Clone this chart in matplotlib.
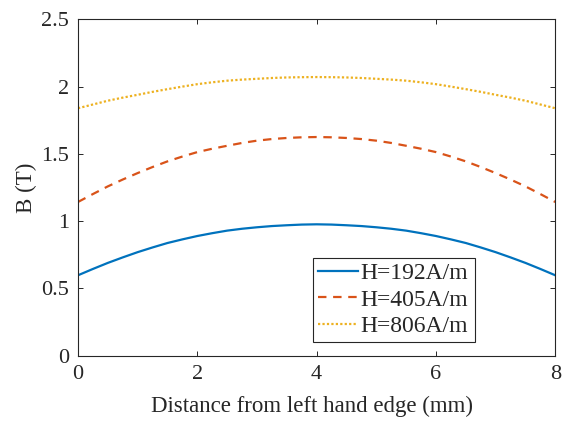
import matplotlib
matplotlib.use("Agg")
import matplotlib.pyplot as plt

plt.rcParams["font.family"] = ["Liberation Serif", "DejaVu Serif"]

# Distance from the left hand edge (mm)
distance = [0, 0.25, 0.5, 0.75, 1, 1.25, 1.5, 1.75, 2, 2.25, 2.5, 2.75, 3, 3.25, 3.5, 3.75, 4,
            4.25, 4.5, 4.75, 5, 5.25, 5.5, 5.75, 6, 6.25, 6.5, 6.75, 7, 7.25, 7.5, 7.75, 8]

# Flux density B (T) for each applied field
b_192 = [0.598, 0.645, 0.690, 0.731, 0.770, 0.805, 0.838, 0.865, 0.890, 0.911, 0.930,
         0.944, 0.955, 0.964, 0.970, 0.975, 0.977,
         0.975, 0.970, 0.964, 0.955, 0.944, 0.930, 0.911, 0.890, 0.865, 0.838,
         0.805, 0.770, 0.731, 0.690, 0.645, 0.598]
b_405 = [1.143, 1.202, 1.259, 1.310, 1.358, 1.403, 1.445, 1.481, 1.514, 1.539, 1.561,
         1.582, 1.599, 1.611, 1.619, 1.624, 1.626,
         1.624, 1.619, 1.611, 1.599, 1.582, 1.561, 1.539, 1.514, 1.481, 1.445,
         1.403, 1.358, 1.310, 1.259, 1.202, 1.143]
b_806 = [1.840, 1.868, 1.896, 1.919, 1.940, 1.962, 1.982, 2.001, 2.019, 2.033, 2.045,
         2.053, 2.059, 2.065, 2.069, 2.071, 2.072,
         2.071, 2.069, 2.065, 2.059, 2.053, 2.045, 2.033, 2.019, 2.001, 1.982,
         1.962, 1.940, 1.919, 1.896, 1.868, 1.840]

labels = ["H=192A/m", "H=405A/m", "H=806A/m"]
colors = ["#0072BD", "#D95319", "#EDB120"]
ink = "#262626"

fig = plt.figure(figsize=(5.68, 4.21), dpi=100)
ax = fig.add_axes([0.1373, 0.1551, 0.8403, 0.7986])

ax.plot(distance, b_192, color=colors[0], lw=1.6, label=labels[0])
ax.plot(distance, b_405, color=colors[1], lw=1.6, linestyle=(0, (3.8, 3.0)),
        dash_capstyle="butt", label=labels[1])
ax.plot(distance, b_806, color=colors[2], lw=1.6, linestyle=(0, (1.0, 1.0)),
        dash_capstyle="butt", label=labels[2])

ax.set_xlim(0, 8)
ax.set_ylim(0, 2.5)
ax.set_xticks([0, 2, 4, 6, 8])
ax.set_yticks([0, 0.5, 1, 1.5, 2, 2.5])
ax.set_yticklabels(["0", "0.5", "1", "1.5", "2", "2.5"])

ax.tick_params(direction="in", length=3.6, width=0.7, top=True, right=True,
               labelsize=16, colors=ink)
ax.tick_params(axis="x", pad=7)
ax.tick_params(axis="y", pad=6.5)
for s in ax.spines.values():
    s.set_linewidth(0.8)
    s.set_color(ink)

ax.set_xlabel("Distance from left hand edge (mm)", fontsize=16.5, color=ink)
ax.xaxis.set_label_coords(0.49, -0.12)
ax.set_ylabel("B (T)", fontsize=16.5, color=ink)
ax.yaxis.set_label_coords(-0.085, 0.5)

leg = ax.legend(loc="lower left", bbox_to_anchor=(0.493, 0.042, 0.339, 0.252),
                mode="expand", fontsize=17, handlelength=1.7, handletextpad=0.08,
                labelspacing=0.2, borderpad=0.2, borderaxespad=0.0,
                frameon=True, fancybox=False, framealpha=1)
leg.get_frame().set_edgecolor(ink)
leg.get_frame().set_linewidth(0.8)
for t in leg.get_texts():
    t.set_color(ink)

fig.savefig("out.png", dpi=100)
